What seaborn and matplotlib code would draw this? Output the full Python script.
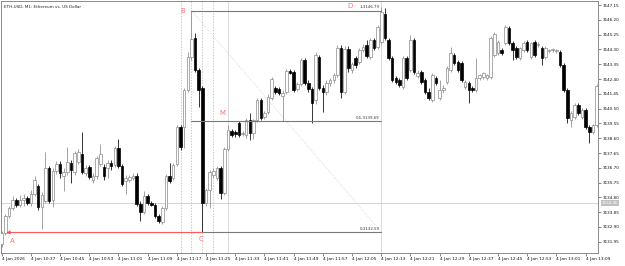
import numpy as np
import pandas as pd
import matplotlib
matplotlib.use("Agg")
import matplotlib.pyplot as plt
import matplotlib.transforms as mtransforms
import seaborn as sns

# ---------------- data (ETH-USD, M1) ----------------
OPEN = [3131.81, 3132.51, 3133.60, 3134.12, 3134.63, 3134.31, 3134.63, 3134.76, 3134.44, 3135.02,
        3135.53, 3134.18, 3134.57, 3136.68, 3134.63, 3136.49, 3136.94, 3136.17, 3136.43, 3137.01,
        3136.43, 3137.07, 3137.58, 3136.36, 3136.75, 3135.91, 3136.17, 3136.94, 3136.75, 3136.68,
        3137.01, 3136.88, 3137.97, 3136.81, 3135.85, 3135.91, 3136.04, 3136.17, 3134.37, 3133.86,
        3134.89, 3134.44, 3134.31, 3133.60, 3133.22, 3134.12, 3136.17, 3136.04, 3136.94, 3139.32,
        3139.32, 3141.69, 3143.81, 3145.03, 3142.98, 3141.82, 3134.44, 3135.27, 3136.23, 3136.04,
        3136.68, 3135.08, 3137.90, 3139.06, 3139.00, 3139.57, 3138.87, 3138.80, 3139.77, 3138.93,
        3139.77, 3141.05, 3139.96, 3140.28, 3141.18, 3141.82, 3141.76, 3141.31, 3141.56, 3142.91,
        3142.85, 3141.76, 3142.08, 3143.62, 3142.14, 3141.76, 3141.05, 3143.81, 3141.82, 3141.56,
        3142.14, 3142.33, 3142.66, 3144.39, 3141.56, 3144.32, 3142.98, 3143.75, 3143.49, 3144.26,
        3144.58, 3143.81, 3144.90, 3144.45, 3144.77, 3146.57, 3144.90, 3143.75, 3142.46, 3142.33,
        3141.88, 3143.75, 3142.98, 3144.90, 3142.59, 3142.85, 3142.33, 3141.56, 3141.05, 3142.46,
        3141.18, 3141.69, 3142.21, 3142.98, 3143.94, 3143.49, 3143.43, 3141.88, 3142.14, 3141.82,
        3141.69, 3142.46, 3142.53, 3142.46, 3142.53, 3143.94, 3144.07, 3144.26, 3144.71, 3145.67,
        3144.71, 3144.39, 3143.75, 3144.26, 3144.77, 3143.81, 3144.77, 3144.58, 3144.39, 3143.81,
        3144.20, 3144.26, 3144.20, 3144.13, 3143.30, 3141.69, 3139.77, 3139.96, 3140.73, 3139.96,
        3140.41, 3139.32, 3139.00, 3139.45]
HIGH = [3132.64, 3133.73, 3134.25, 3134.89, 3134.76, 3134.95, 3135.02, 3134.89, 3135.27, 3136.17,
        3135.66, 3135.14, 3137.71, 3136.81, 3136.68, 3137.13, 3137.13, 3136.68, 3138.03, 3137.20,
        3137.78, 3137.90, 3139.00, 3136.88, 3136.88, 3136.36, 3137.46, 3138.23, 3136.94, 3137.20,
        3137.20, 3138.10, 3138.55, 3136.94, 3136.23, 3136.23, 3136.36, 3136.36, 3134.57, 3135.21,
        3135.02, 3134.57, 3134.44, 3133.73, 3134.25, 3136.30, 3137.01, 3137.01, 3139.45, 3139.45,
        3141.82, 3144.13, 3146.79, 3145.35, 3143.10, 3141.95, 3135.40, 3136.56, 3136.68, 3136.81,
        3136.81, 3138.03, 3139.45, 3139.19, 3139.12, 3139.70, 3139.06, 3139.89, 3140.21, 3139.83,
        3141.18, 3141.18, 3140.34, 3141.44, 3142.53, 3141.95, 3141.88, 3141.69, 3143.04, 3143.04,
        3142.98, 3142.21, 3143.75, 3143.75, 3142.33, 3141.88, 3144.13, 3143.94, 3142.01, 3142.33,
        3142.46, 3142.78, 3144.58, 3144.58, 3144.52, 3144.52, 3143.49, 3143.87, 3144.39, 3144.65,
        3144.90, 3145.03, 3145.03, 3145.87, 3147.02, 3146.96, 3145.03, 3143.87, 3142.59, 3142.46,
        3143.87, 3143.87, 3145.22, 3145.03, 3142.98, 3142.98, 3142.46, 3141.82, 3142.78, 3142.59,
        3142.33, 3142.01, 3143.23, 3144.45, 3144.07, 3143.62, 3143.55, 3142.33, 3142.27, 3141.95,
        3143.75, 3142.72, 3142.85, 3142.72, 3145.16, 3145.42, 3144.90, 3144.39, 3145.87, 3145.80,
        3144.84, 3144.52, 3144.45, 3144.84, 3144.90, 3144.77, 3144.90, 3144.77, 3144.52, 3144.52,
        3144.32, 3144.39, 3144.32, 3144.26, 3143.43, 3141.82, 3140.34, 3140.86, 3140.86, 3140.54,
        3140.54, 3139.45, 3139.51, 3142.08]
LOW = [3131.61, 3132.38, 3133.47, 3133.99, 3134.18, 3134.18, 3134.25, 3134.31, 3134.25, 3134.89,
       3133.99, 3132.77, 3134.44, 3134.44, 3134.18, 3136.30, 3136.04, 3135.21, 3136.23, 3135.72,
       3136.23, 3136.94, 3136.30, 3136.17, 3135.98, 3135.72, 3135.98, 3136.81, 3135.91, 3136.04,
       3136.56, 3136.75, 3136.68, 3135.53, 3135.02, 3135.79, 3135.91, 3134.25, 3133.28, 3133.73,
       3134.31, 3134.25, 3133.47, 3133.15, 3133.09, 3133.99, 3135.72, 3135.91, 3136.81, 3137.84,
       3137.97, 3141.56, 3143.62, 3142.85, 3140.60, 3132.59, 3134.25, 3134.12, 3136.04, 3135.91,
       3134.69, 3134.95, 3137.78, 3138.67, 3138.67, 3138.67, 3138.74, 3138.61, 3138.48, 3138.55,
       3139.64, 3139.77, 3139.83, 3140.15, 3141.05, 3141.44, 3141.37, 3139.70, 3141.44, 3142.72,
       3141.56, 3141.63, 3141.95, 3142.01, 3141.56, 3139.57, 3140.79, 3141.69, 3140.28, 3141.37,
       3141.95, 3142.14, 3142.53, 3141.18, 3141.44, 3142.85, 3142.78, 3143.10, 3143.36, 3144.13,
       3143.75, 3143.68, 3144.26, 3144.32, 3144.65, 3144.90, 3143.62, 3142.21, 3142.08, 3141.88,
       3141.76, 3142.33, 3142.85, 3142.72, 3142.46, 3142.08, 3141.44, 3141.05, 3140.92, 3142.01,
       3141.05, 3141.50, 3142.08, 3142.85, 3143.30, 3142.85, 3142.21, 3141.76, 3140.86, 3141.56,
       3141.56, 3142.33, 3142.40, 3142.33, 3142.40, 3143.81, 3143.94, 3143.94, 3144.58, 3144.58,
       3143.62, 3143.68, 3143.62, 3144.13, 3144.13, 3143.68, 3143.81, 3144.45, 3143.30, 3143.68,
       3144.07, 3144.13, 3144.07, 3143.17, 3141.56, 3139.57, 3139.32, 3139.83, 3140.09, 3139.83,
       3139.19, 3138.29, 3138.87, 3139.32]
CLOSE = [3132.51, 3133.60, 3134.12, 3134.63, 3134.31, 3134.63, 3134.76, 3134.44, 3135.02, 3135.91,
         3134.18, 3134.95, 3136.68, 3134.57, 3136.49, 3136.94, 3136.36, 3136.43, 3137.07, 3136.56,
         3137.65, 3137.71, 3136.43, 3136.68, 3136.11, 3136.17, 3137.33, 3137.58, 3136.17, 3137.01,
         3136.81, 3137.97, 3136.81, 3135.66, 3136.04, 3136.11, 3136.17, 3134.37, 3133.86, 3134.89,
         3134.44, 3134.31, 3133.60, 3133.28, 3134.12, 3136.17, 3135.85, 3136.88, 3139.32, 3138.03,
         3141.69, 3143.81, 3144.97, 3142.98, 3141.69, 3134.44, 3135.27, 3136.43, 3136.49, 3136.68,
         3135.08, 3137.90, 3139.12, 3138.80, 3138.87, 3138.80, 3138.93, 3139.77, 3138.93, 3139.77,
         3141.05, 3139.89, 3140.21, 3141.24, 3142.40, 3141.56, 3141.50, 3141.50, 3142.91, 3142.78,
         3141.69, 3142.08, 3143.62, 3142.14, 3141.76, 3140.86, 3143.94, 3141.82, 3141.56, 3142.14,
         3142.33, 3142.66, 3144.39, 3141.56, 3144.32, 3143.10, 3143.36, 3143.30, 3144.26, 3144.45,
         3143.87, 3144.90, 3144.39, 3145.74, 3146.70, 3145.03, 3143.75, 3142.33, 3142.21, 3142.01,
         3143.75, 3142.46, 3144.90, 3142.85, 3142.78, 3142.21, 3141.56, 3141.18, 3142.66, 3142.14,
         3141.69, 3141.82, 3143.10, 3144.07, 3143.43, 3142.98, 3142.33, 3142.21, 3141.69, 3141.69,
         3142.46, 3142.66, 3142.78, 3142.66, 3145.03, 3145.29, 3144.77, 3144.07, 3145.74, 3144.71,
         3144.26, 3143.81, 3144.39, 3144.71, 3144.26, 3144.71, 3143.94, 3144.65, 3143.75, 3144.39,
         3144.26, 3144.32, 3144.26, 3143.30, 3141.69, 3139.89, 3140.21, 3140.73, 3140.21, 3140.41,
         3139.32, 3139.00, 3139.45, 3141.95]

X_TICK_LABELS = ["4 Jan 2026", "4 Jan 10:37", "4 Jan 10:45", "4 Jan 10:53", "4 Jan 11:01",
                 "4 Jan 11:09", "4 Jan 11:17", "4 Jan 11:25", "4 Jan 11:33", "4 Jan 11:41",
                 "4 Jan 11:49", "4 Jan 11:57", "4 Jan 12:05", "4 Jan 12:13", "4 Jan 12:21",
                 "4 Jan 12:29", "4 Jan 12:37", "4 Jan 12:45", "4 Jan 12:53", "4 Jan 13:01",
                 "4 Jan 13:09"]
Y_TICK_LABELS = ["3131.95", "3132.90", "3133.85", "3134.80", "3135.75", "3136.70", "3137.65",
                 "3138.60", "3139.55", "3140.50", "3141.45", "3142.40", "3143.35", "3144.30",
                 "3145.25", "3146.20", "3147.15"]

TITLE = "ETH-USD, M1: Ethereum vs. US Dollar"
FIB_LEVELS = [1.0, 0.5, 0.0]
FIB_HIGH = 3146.79
FIB_LOW = 3132.59
FIB_BARS = [52, 104]
PRICE_LINE = 3134.46
DASHED_BARS = [49, 52, 55, 58]
SOLID_BARS = [62, 104]
POINTS = {"A": (3, 3132.00), "B": (49.7, 3146.76), "C": (54.6, 3132.13),
          "D": (95.4, 3147.09), "M": (60.4, 3140.21)}
AC_BARS = [1.8, 55]

# ---------------- figure ----------------
sns.set_theme(style="white")
plt.rcParams["font.family"] = ["DejaVu Sans"]

df = pd.DataFrame({"open": OPEN, "high": HIGH, "low": LOW, "close": CLOSE})
df["bar"] = np.arange(len(df))
df["up"] = df["close"] >= df["open"]

W, H = 625, 266
fig = plt.figure(figsize=(W / 100, H / 100), dpi=100)
fig.patch.set_facecolor("white")
ax = fig.add_axes([1 / W, 13 / H, 597 / W, 252 / H])
ax.set_facecolor("white")

UPC = "#8a8a8a"
DNC = "#000000"

# vertical helper lines
for b in DASHED_BARS:
    ax.axvline(b, color="#b4b4b4", lw=0.5, ls=(0, (2, 2)), zorder=1)
for b in SOLID_BARS:
    ax.axvline(b, color="#d4d4d4", lw=0.6, zorder=1)
ax.axhline(PRICE_LINE, color="#cccccc", lw=0.6, zorder=1)

# candles
wick_colors = [UPC if u else DNC for u in df["up"]]
ax.vlines(df["bar"], df["low"], df["high"], colors=wick_colors, lw=0.55, zorder=2)
body_bottom = np.minimum(df["open"], df["close"])
body_h = np.maximum(np.abs(df["close"] - df["open"]), 0.04)
ax.bar(df["bar"], body_h, bottom=body_bottom, width=0.7,
       color=["white" if u else DNC for u in df["up"]],
       edgecolor=wick_colors, linewidth=0.5, zorder=3)

# Fibonacci retracement
x0, x1 = FIB_BARS
for lvl in FIB_LEVELS:
    p = FIB_LOW + (FIB_HIGH - FIB_LOW) * lvl
    ax.plot([x0, x1], [p, p], color="#7a7a7a", lw=0.8, zorder=4)
    lab = f"{lvl:g}-{p:.2f}"
    ax.text(x1 - 0.4, p + 0.08, lab, fontsize=2.8, ha="right", va="bottom",
            color="#333333", zorder=6)
ax.plot([x0, x1], [FIB_HIGH, FIB_LOW], color="#c8c8c8", lw=0.5, ls=":", zorder=1)

# A-C red line with arrow
ax.plot(AC_BARS, [FIB_LOW, FIB_LOW], color="#ff5a5a", lw=0.8, zorder=5)
ax.plot([AC_BARS[0]], [FIB_LOW], marker="<", color="#ff4444", ms=3, mew=0, zorder=5)

for k, (bx, py) in POINTS.items():
    ax.text(bx, py, k, color="#ff7070", fontsize=5, ha="center", va="center", zorder=6)

ax.text(0.5, 3147.05, TITLE, fontsize=3.0, ha="left", va="center", color="#222222")

# axes
ax.set_xlim(-0.19, 163.4)
ax.set_ylim(3131.23, 3147.41)
ax.yaxis.tick_right()
ax.set_yticks([float(t) for t in Y_TICK_LABELS])
ax.set_yticklabels(Y_TICK_LABELS)
ax.set_xticks(np.arange(len(X_TICK_LABELS)) * 8)
ax.set_xticklabels(X_TICK_LABELS, ha="left")
for lbl in ax.get_xticklabels():
    lbl.set_transform(lbl.get_transform() + mtransforms.ScaledTranslation(1 / 100, 0, fig.dpi_scale_trans))
ax.tick_params(axis="x", direction="out", length=2, width=0.5, pad=1.2, labelsize=3.1,
               colors="#555555", labelcolor="#111111", bottom=True)
ax.tick_params(axis="y", direction="out", length=2, width=0.5, pad=1.5, labelsize=3.0,
               colors="#555555", labelcolor="#111111", right=True, left=False)
for s in ax.spines.values():
    s.set_color("#8a8a8a")
    s.set_linewidth(0.7)
ax.grid(False)

# price label box
trans = mtransforms.blended_transform_factory(ax.transAxes, ax.transData)
ax.text(1.006, PRICE_LINE, f"{PRICE_LINE:.2f}", transform=trans, fontsize=3.0,
        ha="left", va="center", color="white", clip_on=False,
        bbox=dict(boxstyle="square,pad=0.25", fc="#c0c0c0", ec="none"))

fig.savefig("out.png", dpi=100, facecolor="white")
